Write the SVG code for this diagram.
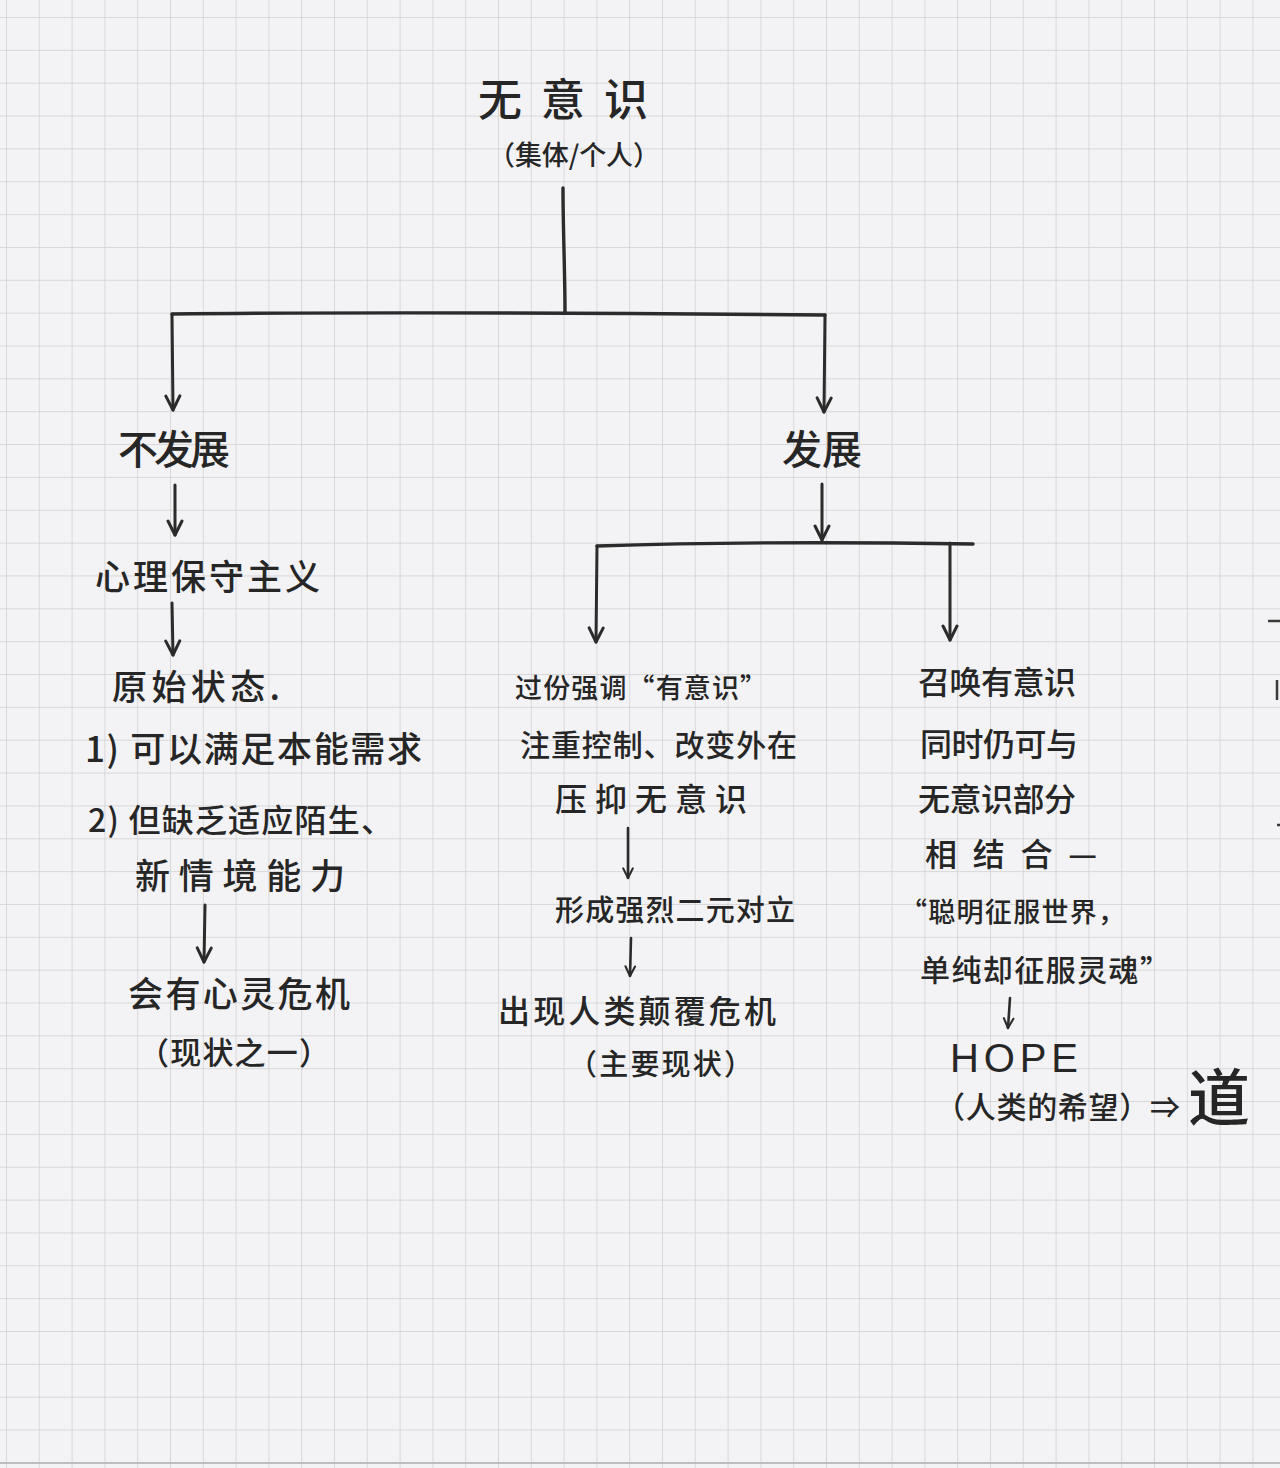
<svg xmlns="http://www.w3.org/2000/svg" width="1280" height="1468" viewBox="0 0 1280 1468">
<defs>
<pattern id="grid" x="6" y="17" width="32.8" height="32.85" patternUnits="userSpaceOnUse">
<path d="M0,0 H32.8 M0,0 V32.85" fill="none" stroke="#cfcfd1" stroke-width="1.5"/>
</pattern>
<marker id="ah" viewBox="-16 -10 20 20" refX="0" refY="0" markerWidth="20" markerHeight="20" markerUnits="userSpaceOnUse" orient="auto">
<path d="M-14,-7 L0,0 L-14,7" fill="none" stroke="#2b2b2b" stroke-width="3" stroke-linecap="round" stroke-linejoin="round"/>
</marker>
<marker id="ahs" viewBox="-16 -10 20 20" refX="0" refY="0" markerWidth="16" markerHeight="16" markerUnits="userSpaceOnUse" orient="auto">
<path d="M-12,-6 L0,0 L-12,6" fill="none" stroke="#2b2b2b" stroke-width="2.6" stroke-linecap="round" stroke-linejoin="round"/>
</marker>
</defs>
<style>
text { font-family: "Noto Sans CJK SC", "Noto Sans", sans-serif; fill: #262626; font-weight: 500; }
.t44 { font-size: 44px; }
.t40 { font-size: 40px; }
.t36 { font-size: 35px; }
.t32 { font-size: 32px; }
.ln { fill: none; stroke: #2b2b2b; stroke-width: 3.4; stroke-linecap: round; stroke-linejoin: round; }
.ar { fill: none; stroke: #2b2b2b; stroke-width: 3; stroke-linecap: round; marker-end: url(#ah); }
.ars { fill: none; stroke: #2b2b2b; stroke-width: 2.6; stroke-linecap: round; marker-end: url(#ahs); }
</style>
<rect x="0" y="0" width="1280" height="1468" fill="#f3f3f5"/>
<rect x="0" y="0" width="1280" height="1468" fill="url(#grid)"/>
<line x1="0" y1="1463" x2="1280" y2="1463" stroke="#bdbdbf" stroke-width="2"/>
<g id="edge-marks" stroke="#3a3a3a" stroke-width="2.5">
<line x1="1268" y1="621" x2="1280" y2="621"/>
<line x1="1277" y1="680" x2="1277" y2="700"/>
<line x1="1277" y1="825" x2="1280" y2="825"/>
</g>

<g id="connectors">
<path class="ln" d="M563,188 C563,230 565,270 565,313"/>
<path class="ln" d="M172,314 C350,312 600,313 825,315"/>
<path class="ar" d="M172,314 L173,410"/>
<path class="ar" d="M825,315 L824,412"/>
<path class="ar" d="M175,485 L175,535"/>
<path class="ar" d="M172,603 L173,655"/>
<path class="ar" d="M205,905 L204,962"/>
<path class="ar" d="M822,484 L822,540"/>
<path class="ln" d="M597,546 C720,542 850,542 973,544"/>
<path class="ar" d="M597,546 L596,642"/>
<path class="ar" d="M950,543 L950,640"/>
<path class="ars" d="M628,828 L628,878"/>
<path class="ars" d="M631,938 L630,976"/>
<path class="ars" d="M1010,998 L1008,1028"/>
</g>

<g id="n-root">
<text class="t44" x="478" y="116" textLength="170" lengthAdjust="spacing">无意识</text>
<text x="488" y="165" textLength="172" lengthAdjust="spacing" style="font-size:27px">（集体/个人）</text>
</g>
<g id="n-bufazhan">
<text class="t40" x="118" y="464" textLength="112" lengthAdjust="spacing">不发展</text>
</g>
<g id="n-fazhan">
<text class="t40" x="782" y="464" textLength="80" lengthAdjust="spacing">发展</text>
</g>
<g id="n-baoshou">
<text class="t36" x="95" y="590" textLength="225" lengthAdjust="spacing">心理保守主义</text>
</g>
<g id="n-yuanshi">
<text class="t36" x="112" y="700" textLength="168" lengthAdjust="spacing">原始状态.</text>
<text class="t36" x="85" y="762" textLength="337" lengthAdjust="spacing">1) 可以满足本能需求</text>
<text x="88" y="832" textLength="305" lengthAdjust="spacing" style="font-size:32px">2) 但缺乏适应陌生、</text>
<text class="t36" x="135" y="889" textLength="210" lengthAdjust="spacing">新情境能力</text>
</g>
<g id="n-weiji1">
<text class="t36" x="128" y="1007" textLength="222" lengthAdjust="spacing">会有心灵危机</text>
<text x="138" y="1064" textLength="192" lengthAdjust="spacing" style="font-size:31px">（现状之一）</text>
</g>
<g id="n-guofen">
<text x="515" y="698" textLength="252" lengthAdjust="spacing" style="font-size:27px">过份强调“有意识”</text>
<text x="520" y="756" textLength="277" lengthAdjust="spacing" style="font-size:30px">注重控制、改变外在</text>
<text class="t32" x="555" y="811" textLength="192" lengthAdjust="spacing">压抑无意识</text>
</g>
<g id="n-duili">
<text x="555" y="921" textLength="240" lengthAdjust="spacing" style="font-size:29px">形成强烈二元对立</text>
</g>
<g id="n-weiji2">
<text class="t32" x="498" y="1023" textLength="278" lengthAdjust="spacing">出现人类颠覆危机</text>
<text x="568" y="1075" textLength="185" lengthAdjust="spacing" style="font-size:29px">（主要现状）</text>
</g>
<g id="n-zhaohuan">
<text class="t32" x="918" y="694" textLength="158" lengthAdjust="spacing">召唤有意识</text>
<text class="t32" x="920" y="756" textLength="158" lengthAdjust="spacing">同时仍可与</text>
<text class="t32" x="918" y="811" textLength="158" lengthAdjust="spacing">无意识部分</text>
<text class="t32" x="925" y="866" textLength="172" lengthAdjust="spacing">相结合—</text>
<text x="900" y="922" textLength="225" lengthAdjust="spacing" style="font-size:27px">“聪明征服世界，</text>
<text x="920" y="981" textLength="250" lengthAdjust="spacing" style="font-size:30px">单纯却征服灵魂”</text>
</g>
<g id="n-hope">
<text class="t40" x="950" y="1072" textLength="128" lengthAdjust="spacing" style="font-family:'Liberation Sans','Noto Sans',sans-serif;font-weight:normal">HOPE</text>
<text x="935" y="1118" textLength="245" lengthAdjust="spacing" style="font-size:30px">（人类的希望）⇒</text>
</g>
<g id="n-dao">
<text x="1188" y="1121" style="font-size:62px">道</text>
</g>
</svg>
